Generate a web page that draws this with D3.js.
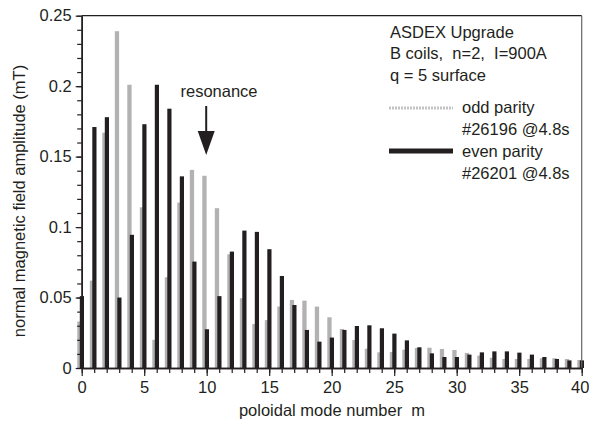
<!DOCTYPE html>
<html><head><meta charset="utf-8">
<script src="https://cdn.jsdelivr.net/npm/d3@7/dist/d3.min.js"></script>
<style>body{margin:0;background:#fff}svg{display:block}text{font-family:"Liberation Sans",Arial,sans-serif;fill:#231f20;white-space:pre}</style>
</head><body><svg id="c" width="589" height="424"></svg>
<script>
const modes = d3.range(0, 41);
const oddParity = [0.033,0.062,0.167,0.239,0.201,0.114,0.020,0.0644,0.1174,0.1406,0.1364,0.1134,0.0807,0.0495,0.0312,0.034,0.0436,0.0483,0.0478,0.0436,0.036,0.0277,0.0199,0.0137,0.0111,0.0114,0.013,0.0142,0.0144,0.0135,0.0128,0.0107,0.0088,0.0073,0.0064,0.0064,0.0064,0.0069,0.0069,0.0064,0.0057];
const evenParity = [0.051,0.171,0.178,0.050,0.0945,0.173,0.201,0.184,0.136,0.0755,0.0275,0.051,0.0826,0.0975,0.0966,0.0843,0.0653,0.0447,0.027,0.0187,0.0216,0.027,0.0298,0.0303,0.0282,0.0244,0.0196,0.0147,0.0104,0.0078,0.0078,0.0095,0.0111,0.0118,0.0118,0.0109,0.0095,0.0078,0.0064,0.0054,0.0054];
const xTicks = [0,5,10,15,20,25,30,35,40];
const yTicks = [0,0.05,0.1,0.15,0.2,0.25];
const yTickLabels = ["0","0.05","0.1","0.15","0.2","0.25"];
const infoLines = ["ASDEX Upgrade","B coils,  n=2,  I=900A","q = 5 surface"];
const legendLabels = [["odd parity","#26196 @4.8s"],["even parity","#26201 @4.8s"]];

const FS = "16.5px";
const svg = d3.select("#c");
const x = d3.scaleLinear().domain([0,40]).range([81.7,581.7]);
const y = d3.scaleLinear().domain([0,0.25]).range([368,15.7]);
const dark = "#231f20", grey = "#b2b2b2";

// bars
svg.append("g").selectAll("rect").data(modes).join("rect")
  .attr("x", m => x(m)-4.4).attr("width",4.3)
  .attr("y", m => y(oddParity[m])).attr("height", m => y(0)-y(oddParity[m]))
  .attr("fill", grey);
svg.append("g").selectAll("rect").data(modes).join("rect")
  .attr("x", m => x(m)-1.9).attr("width",4.2)
  .attr("y", m => y(evenParity[m])).attr("height", m => y(0)-y(evenParity[m]))
  .attr("fill", dark);

// frame
svg.append("line").attr("x1",x(0)).attr("x2",x(40)).attr("y1",y(0.25)).attr("y2",y(0.25)).attr("stroke",dark).attr("stroke-width",1.3);
svg.append("line").attr("x1",x(40)).attr("x2",x(40)).attr("y1",y(0.25)).attr("y2",y(0)).attr("stroke","#666").attr("stroke-width",1.2);

// axes
function styleAxis(g){ g.select(".domain").attr("stroke",dark).attr("stroke-width",1.5); g.selectAll(".tick line").attr("stroke",dark).attr("stroke-width",1.2); g.selectAll("text").attr("fill",dark).style("font-size",FS).style("font-family","'Liberation Sans',Arial,sans-serif"); }
const gxm = svg.append("g").attr("transform",`translate(0,${y(0)})`)
  .call(d3.axisBottom(x).tickValues(modes).tickSize(5).tickFormat("").tickSizeOuter(0));
styleAxis(gxm);
const gx = svg.append("g").attr("transform",`translate(0,${y(0)})`)
  .call(d3.axisBottom(x).tickValues(xTicks).tickSize(8).tickPadding(5).tickSizeOuter(0));
styleAxis(gx);
gx.selectAll(".tick text").filter(d => d === 40).attr("dx", -2);
const gym = svg.append("g").attr("transform",`translate(${x(0)},0)`)
  .call(d3.axisLeft(y).tickValues(d3.range(0,26).map(i=>i/100)).tickSize(4.5).tickFormat("").tickSizeOuter(0));
styleAxis(gym);
const gy = svg.append("g").attr("transform",`translate(${x(0)},0)`)
  .call(d3.axisLeft(y).tickValues(yTicks).tickSize(6).tickPadding(4).tickFormat((d,i)=>yTickLabels[i]).tickSizeOuter(0));
styleAxis(gy);

// axis titles
svg.append("text").attr("x",332).attr("y",416).attr("text-anchor","middle").style("font-size",FS).text("poloidal mode number  m");
svg.append("text").attr("transform","translate(25,201) rotate(-90)").attr("text-anchor","middle").style("font-size",FS).text("normal magnetic field amplitude (mT)");

// info text
svg.append("g").selectAll("text").data(infoLines).join("text")
  .attr("x",390).attr("y",(d,i)=>37.5+i*21.5).style("font-size",FS).text(d=>d);

// legend
const lg = svg.append("g");
lg.append("line").attr("x1",389).attr("x2",453).attr("y1",108).attr("y2",108).attr("stroke","#c4c4c4").attr("stroke-width",3).attr("stroke-dasharray","2,1");
lg.append("line").attr("x1",389).attr("x2",453).attr("y1",151).attr("y2",151).attr("stroke",dark).attr("stroke-width",5);
legendLabels.forEach((pair,k)=>{
  pair.forEach((t,j)=>{
    lg.append("text").attr("x",462).attr("y",112.5+k*44+j*22).style("font-size",FS).text(t);
  });
});

// resonance annotation
svg.append("text").attr("x",219).attr("y",97).attr("text-anchor","middle").style("font-size",FS).text("resonance");
svg.append("line").attr("x1",x(10)-0.5).attr("x2",x(10)-0.5).attr("y1",106).attr("y2",135).attr("stroke",dark).attr("stroke-width",2);
svg.append("path").attr("d",`M${x(10)-9},131 L${x(10)+8},131 L${x(10)-0.5},155 Z`).attr("fill",dark);
</script></body></html>
